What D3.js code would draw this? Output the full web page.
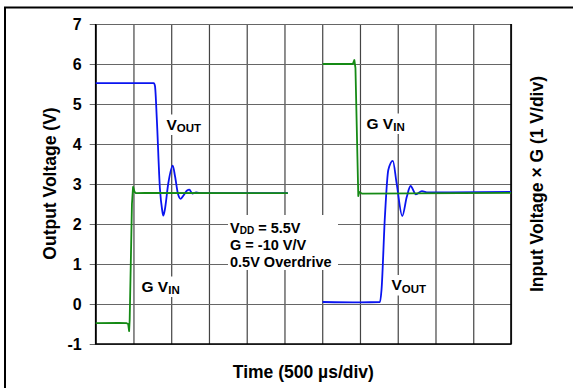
<!DOCTYPE html>
<html><head><meta charset="utf-8">
<script src="https://cdn.jsdelivr.net/npm/d3@7"></script>
<style>
html,body{margin:0;padding:0;background:#fff;}
text{font-family:"Liberation Sans",Arial,sans-serif;font-weight:bold;fill:#000;}
</style></head>
<body><svg id="c" width="573" height="388"></svg>
<script>
// ---- data (x in time divisions, 500 µs/div; y in volts) ----
const xTicks = [0,1,2,3,4,5,6,7,8,9,10,11];
const yTicks = [-1,0,1,2,3,4,5,6,7];

const voutFallT = [0,1.54,1.57,1.62,1.70,1.76,1.79,1.83,1.92,2.04,2.10,2.18,2.25,2.33,2.42,2.48,2.56,2.66,2.8,5.09];
const voutFallV = [5.52,5.52,5.45,4.6,2.9,2.35,2.21,2.35,3.0,3.46,3.2,2.75,2.63,2.72,2.84,2.86,2.76,2.79,2.77,2.77];

const vinRiseT = [0,0.6,0.82,0.86,0.885,0.90,0.96,0.99,1.03,1.07,1.3,5.09];
const vinRiseV = [-0.48,-0.47,-0.48,-0.5,-0.68,-0.4,2.5,2.93,2.8,2.77,2.78,2.77];

const vinFallT = [6.01,6.5,6.81,6.85,6.88,6.955,6.98,7.05,11];
const vinFallV = [6.0,6.0,6.0,6.1,5.9,2.7,2.8,2.76,2.78];

const voutRiseT = [6.01,7.0,7.53,7.57,7.66,7.75,7.87,7.97,8.12,8.24,8.34,8.48,8.64,8.8,11];
const voutRiseV = [0.05,0.04,0.05,0.35,2.18,3.35,3.58,3.02,2.2,2.68,2.95,2.74,2.82,2.79,2.8];

const xTitle = "Time (500 µs/div)";
const yTitle = "Output Voltage (V)";
const y2Title = "Input Voltage × G (1 V/div)";
const noteLines = [["V","DD"," = 5.5V"],["G = -10 V/V"],["0.5V Overdrive"]];

// ---- layout ----
const svg = d3.select("#c");
const L = 95.7, R = 511, T = 24, B = 344;
const x = d3.scaleLinear().domain([0,11]).range([L,R]);
const y = d3.scaleLinear().domain([-1,7]).range([B,T]);

// outer frame
svg.append("rect").attr("x",5).attr("y",7.5).attr("width",620).attr("height",420)
  .attr("fill","none").attr("stroke","#000").attr("stroke-width",2);

// vertical grid
const gx = svg.append("g").attr("transform",`translate(0,${B})`)
  .call(d3.axisBottom(x).tickValues(xTicks).tickSize(-(B-T)).tickFormat(""));
gx.select(".domain").remove();
gx.selectAll(".tick line").attr("stroke","#444").attr("stroke-width",1.2);

// horizontal grid + left ticks + labels
const gy = svg.append("g").attr("transform",`translate(${L},0)`)
  .call(d3.axisLeft(y).tickValues(yTicks).tickSize(-(R-L)).tickPadding(14).tickFormat(d=>String(d)));
gy.select(".domain").remove();
gy.selectAll(".tick line").attr("x1",-6).attr("stroke","#666").attr("stroke-width",1.2);
gy.selectAll(".tick text").attr("font-size","16px").attr("font-family","Liberation Sans, Arial, sans-serif")
  .attr("font-weight","bold").attr("fill","#000").attr("dy","0.36em");

// plot border (left, bottom, right)
svg.append("path").attr("d",`M${L},${T}V${B}H${R}V${T}`).attr("fill","none")
  .attr("stroke","#000").attr("stroke-width",1.6);

// text box with white background
const ann = svg.append("g");
ann.append("rect").attr("x",228).attr("y",215).attr("width",110).attr("height",55).attr("fill","#fff");
const l1 = ann.append("text").attr("x",230).attr("y",232.5).attr("font-size","14.5px");
l1.append("tspan").text(noteLines[0][0]);
l1.append("tspan").attr("font-size","10px").attr("dy",1.5).text(noteLines[0][1]);
l1.append("tspan").attr("dy",-1.5).text(noteLines[0][2]);
ann.append("text").attr("x",230).attr("y",249.5).attr("font-size","14.5px").text(noteLines[1][0]);
ann.append("text").attr("x",230).attr("y",266.5).attr("font-size","14.5px").text(noteLines[2][0]);

function subLabel(px,py,main,sub){
  const g = svg.append("g");
  const bg = g.append("rect").attr("fill","#fff");
  const t = g.append("text").attr("x",px).attr("y",py).attr("font-size","15.5px");
  t.append("tspan").text(main);
  t.append("tspan").attr("font-size","11.5px").attr("dy",2.5).text(sub);
  const b = t.node().getBBox();
  bg.attr("x",b.x-2).attr("y",b.y-1).attr("width",b.width+4).attr("height",b.height+2);
}
subLabel(166.5,129.5,"V","OUT");
subLabel(391.5,290,"V","OUT");
subLabel(366.5,128.5,"G V","IN");
subLabel(141.5,291.5,"G V","IN");

// traces
const line = d3.line().x(d=>x(d[0])).y(d=>y(d[1]));
const zip = (a,b)=>a.map((v,i)=>[v,b[i]]);
const tr = svg.append("g").attr("fill","none").attr("stroke-linejoin","round");
tr.append("path").datum(zip(voutFallT,voutFallV)).attr("d",line.curve(d3.curveMonotoneX))
  .attr("stroke","#0a14f0").attr("stroke-width",1.8);
tr.append("path").datum(zip(voutRiseT,voutRiseV)).attr("d",line.curve(d3.curveMonotoneX))
  .attr("stroke","#0a14f0").attr("stroke-width",1.8);
tr.append("path").datum(zip(vinRiseT,vinRiseV)).attr("d",line.curve(d3.curveLinear))
  .attr("stroke","#158a15").attr("stroke-width",1.8);
tr.append("path").datum(zip(vinFallT,vinFallV)).attr("d",line.curve(d3.curveLinear))
  .attr("stroke","#158a15").attr("stroke-width",1.8);

// axis titles
svg.append("text").attr("x",(L+R)/2).attr("y",378).attr("text-anchor","middle")
  .attr("font-size","17.5px").text(xTitle);
svg.append("text").attr("transform","translate(56,183.5) rotate(-90)").attr("text-anchor","middle")
  .attr("font-size","17.5px").text(yTitle);
svg.append("text").attr("transform","translate(543,184) rotate(-90)").attr("text-anchor","middle")
  .attr("font-size","17.5px").text(y2Title);
</script></body></html>
